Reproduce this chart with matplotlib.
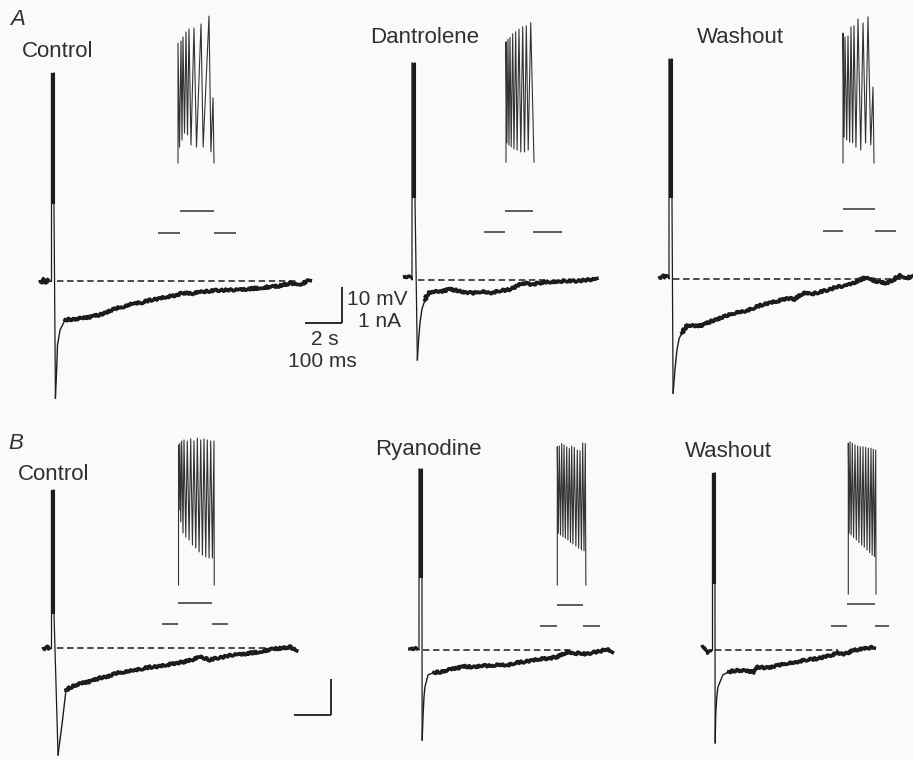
import numpy as np
import matplotlib
matplotlib.use('Agg')
from matplotlib import pyplot as plt

W, H = 913, 760
# drawing scales, pixels per unit
PX_S = 37 / 2.0      # slow sweeps: 2 s bar
PX_MV = 36 / 10.0    # 10 mV bar
PX_MS = 37 / 100.0   # fast sweeps: 100 ms bar
PX_NA = 36 / 1.0     # current: 1 nA bar

INK = '#1c1c1c'
FINE = '#333333'
TXT = '#303030'
BG = '#fafafa'

# ---- slow sweeps: burst at t = 0, potential relative to rest (mV) ----
# A, control
a_ctrl_rest_t = [-0.59, -0.49, -0.38, -0.27, -0.16, -0.05]
a_ctrl_rest_v = [0.3, -0.6, 0.6, -0.5, 0.4, 0.0]
a_ctrl_burst = [57.8, 21.7]   # top of burst, bottom of burst envelope
a_ctrl_ahp_t = [0.24, 0.31, 0.35, 0.49, 0.76, 1.2, 1.73, 2.2, 2.65, 3.1, 3.57, 4.0, 4.43, 4.9, 5.35,
                5.8, 6.27, 6.7, 7.13, 7.6, 8.05, 8.9, 9.84, 10.7, 11.68, 12.3, 12.92, 13.5, 14.0]
a_ctrl_ahp_v = [-32.5, -23.9, -17.8, -13.6, -10.8, -10.6, -10.3, -9.9, -9.4, -8.4, -7.5, -7.0, -6.1, -6.0, -5.3,
                -5.0, -4.4, -4.0, -3.3, -3.5, -3.1, -2.6, -2.5, -2.2, -1.7, -1.4, -0.6, -0.9, 0.3]
a_ctrl_dash = [0.3, 13.4]

# A, dantrolene
a_dant_rest_t = [-0.49, -0.4, -0.3, -0.2, -0.1, -0.03]
a_dant_rest_v = [0.8, 1.1, 0.6, 1.1, 0.7, 0.8]
a_dant_burst = [60.3, 23.1]
a_dant_ahp_t = [0.29, 0.35, 0.43, 0.54, 0.70, 0.86, 1.1, 1.51, 2.0, 2.43, 2.9, 3.30, 3.8, 4.22, 4.7,
                5.13, 5.5, 6.0, 6.5, 6.92, 7.4, 7.84, 8.3, 8.70, 9.3, 10.0]
a_dant_ahp_v = [-22.2, -17.0, -12.0, -8.0, -5.6, -3.6, -3.2, -3.3, -2.6, -2.9, -3.4, -3.6, -3.1, -3.6, -3.0,
                -2.8, -2.2, -0.8, -1.2, -0.8, -0.5, -0.6, -0.2, -0.3, -0.1, 0.3]
a_dant_dash = [0.32, 7.2]

# A, washout
a_wash_rest_t = [-0.54, -0.43, -0.32, -0.22, -0.11, -0.03]
a_wash_rest_v = [0.8, 0.3, 1.1, 0.4, 0.9, 0.8]
a_wash_burst = [61.1, 22.8]
a_wash_ahp_t = [0.22, 0.32, 0.43, 0.55, 0.70, 0.97, 1.4, 1.84, 2.3, 2.76, 3.2, 3.68, 4.1, 4.54, 5.0,
                5.46, 5.9, 6.38, 6.8, 7.24, 7.7, 8.16, 8.6, 9.08, 9.5, 9.95, 10.3, 10.7, 11.0, 11.24,
                11.78, 12.1, 12.49, 12.8, 13.14]
a_wash_ahp_v = [-31.7, -25.3, -19.7, -16.5, -15.0, -12.8, -13.1, -12.8, -11.7, -10.8, -10.0, -9.2, -8.9, -8.1, -7.2,
                -6.7, -6.1, -5.3, -5.6, -3.9, -4.2, -3.6, -3.0, -2.2, -1.9, -1.1, -0.3, 0.6, -0.2, -0.8,
                -1.1, -0.3, 1.1, 0.3, 0.6]
a_wash_dash = [0.22, 12.9]

# B, control
b_ctrl_rest_t = [-0.43, -0.32, -0.22, -0.11, -0.03]
b_ctrl_rest_v = [0.3, -0.3, 0.5, -0.2, 0.0]
b_ctrl_burst = [43.9, 9.7]
b_ctrl_ahp_t = [0.38, 0.6, 0.81, 1.2, 1.73, 2.2, 2.65, 3.1, 3.57, 4.0, 4.43, 4.9, 5.35, 5.8, 6.27,
                6.7, 7.13, 7.6, 8.05, 8.59, 8.97, 9.4, 9.84, 10.3, 10.76, 11.2, 11.68, 12.1, 12.54, 12.9, 13.3]
b_ctrl_ahp_v = [-29.7, -21.0, -11.7, -10.5, -9.7, -9.2, -8.3, -7.8, -6.9, -6.6, -6.1, -5.8, -5.3, -5.2, -4.7,
                -4.2, -3.9, -3.3, -2.5, -3.3, -2.8, -2.4, -1.9, -1.7, -1.4, -1.1, -0.6, -0.2, 0.0, 0.3, -0.6]
b_ctrl_dash = [0.32, 12.5]

# B, ryanodine
b_ryan_rest_t = [-0.59, -0.45, -0.3, -0.16, -0.05]
b_ryan_rest_v = [0.3, 0.6, 0.1, 0.5, 0.3]
b_ryan_burst = [50.3, 20.3]
b_ryan_ahp_t = [0.17, 0.22, 0.27, 0.32, 0.49, 0.8, 1.14, 1.6, 2.05, 2.5, 2.92, 3.4, 3.84, 4.3, 4.76,
                5.2, 5.62, 6.1, 6.54, 7.0, 7.46, 8.0, 8.35, 8.70, 9.05, 9.4, 9.8, 10.16, 10.43]
b_ryan_ahp_v = [-25.0, -18.0, -13.0, -10.3, -6.9, -6.3, -6.1, -5.5, -5.0, -4.6, -4.7, -4.3, -4.4, -4.0, -4.2,
                -3.6, -3.3, -3.0, -2.5, -2.3, -1.9, -0.6, -1.1, -0.8, -1.2, -0.6, -0.4, 0.3, -0.8]
b_ryan_dash = [0.22, 8.3]

# B, washout
b_wash_rest_t = [-0.54, -0.43, -0.32, -0.22, -0.11, -0.03]
b_wash_rest_v = [1.4, 0.8, -0.3, -0.8, -0.3, 0.0]
b_wash_burst = [49.2, 18.6]
b_wash_ahp_t = [0.17, 0.2, 0.26, 0.32, 0.59, 0.9, 1.35, 1.8, 2.27, 2.49, 2.8, 3.19, 3.6, 4.11, 4.5,
                4.97, 5.4, 5.89, 6.3, 6.81, 7.2, 7.68, 8.2, 8.76]
b_wash_ahp_v = [-25.8, -18.0, -13.0, -10.3, -6.9, -6.1, -5.6, -5.8, -6.1, -4.7, -4.9, -4.7, -4.2, -3.6, -3.4,
                -2.8, -2.6, -2.2, -1.7, -0.8, -1.1, 0.0, 0.3, 0.8]
b_wash_dash = [0.16, 6.8]

# ---- fast sweeps of the burst (ms, mV above pre-burst level) ----
a_ctrl_pk_t = [0, 8.1, 13.5, 21.6, 29.7, 43.2, 62.2, 83.8, 94.6]
a_ctrl_pk_v = [33.3, 33.9, 35.0, 36.4, 37.2, 37.5, 38.6, 40.8, 18.1]
a_ctrl_tr_t = [4.1, 10.8, 17.6, 25.7, 35.1, 50.0, 68.0, 89.0]
a_ctrl_tr_v = [4.4, 6.4, 8.3, 7.8, 5.0, 4.4, 4.4, 3.1]
a_ctrl_end = 97.3

a_dant_pk_t = [0, 5.4, 10.8, 18.1, 26.2, 35.1, 45.1, 54.9, 66.8]
a_dant_pk_v = [33.4, 34.1, 34.6, 35.6, 36.2, 36.9, 37.6, 37.8, 38.7]
a_dant_tr_t = [2.5, 8.0, 14.0, 21.5, 30.0, 40.0, 50.0, 60.0]
a_dant_tr_v = [5.3, 4.7, 4.2, 3.6, 3.3, 2.8, 2.8, 3.3]
a_dant_end = 75.7

a_wash_pk_t = [0, 5.4, 13.5, 21.6, 29.7, 40.5, 54.1, 67.6, 81.1]
a_wash_pk_v = [36.1, 35.0, 35.3, 37.8, 38.1, 40.0, 38.9, 40.6, 21.1]
a_wash_tr_t = [3.0, 10.0, 18.0, 26.0, 35.0, 48.0, 61.0, 75.0]
a_wash_tr_v = [7.2, 6.4, 5.8, 5.6, 4.4, 3.6, 5.6, 5.0]
a_wash_end = 83.8

b_ctrl_pk_t = [1.4, 5.0, 10.0, 16.2, 25.1, 34.3, 43.2, 52.2, 61.4, 70.3, 79.2, 88.4, 97.3]
b_ctrl_pk_v = [38.9, 39.4, 40.0, 40.3, 40.0, 40.6, 40.0, 40.8, 40.3, 40.6, 40.3, 40.0, 40.0]
b_ctrl_tr_t = [3.0, 7.5, 13.5, 21.0, 30.0, 39.0, 48.0, 57.0, 66.0, 75.0, 84.0, 93.0]
b_ctrl_tr_v = [20.8, 17.5, 14.4, 13.3, 12.5, 11.1, 10.3, 9.2, 8.3, 7.8, 7.5, 7.5]
b_ctrl_end = 98.0

b_ryan_pk_t = [0.8, 6.2, 12.7, 18.9, 26.2, 33.2, 39.7, 46.8, 54.9, 62.2, 69.5, 76.5]
b_ryan_pk_v = [38.4, 38.6, 39.3, 38.9, 38.4, 37.9, 38.6, 38.2, 37.5, 37.3, 39.5, 39.3]
b_ryan_tr_t = [3.5, 9.5, 16.0, 22.5, 29.5, 36.5, 43.0, 51.0, 58.5, 66.0, 73.0]
b_ryan_tr_v = [14.4, 13.9, 13.4, 13.0, 12.5, 11.8, 11.4, 10.8, 10.2, 9.7, 9.5]
b_ryan_end = 78.0

b_wash_pk_t = [0.8, 5.4, 11.6, 18.9, 26.2, 33.2, 40.5, 47.8, 54.9, 62.2, 68.4, 74.9]
b_wash_pk_v = [41.9, 42.3, 41.9, 41.4, 41.1, 40.9, 40.9, 40.7, 40.5, 40.5, 40.2, 40.0]
b_wash_tr_t = [3.0, 8.5, 15.0, 22.5, 29.5, 37.0, 44.0, 51.5, 58.5, 65.3, 71.5]
b_wash_tr_v = [16.9, 16.4, 15.7, 15.0, 14.3, 13.6, 13.0, 12.2, 11.5, 10.8, 10.4]
b_wash_end = 75.7

# ---- current command: [sweep start, step on, step off, sweep end] (ms), step size (nA) ----
a_ctrl_cmd_t, a_ctrl_cmd_i = [-54, 5.4, 97.3, 157], 0.61
a_dant_cmd_t, a_dant_cmd_i = [-59.5, -2.7, 73, 151], 0.58
a_wash_cmd_t, a_wash_cmd_i = [-54, 0, 86.5, 143], 0.61
b_ctrl_cmd_t, b_ctrl_cmd_i = [-43, 0, 91.9, 135], 0.58
b_ryan_cmd_t, b_ryan_cmd_i = [-46, 0, 70, 116], 0.58
b_wash_cmd_t, b_wash_cmd_i = [-46, -2.7, 73, 111], 0.61

scale_s, scale_mv = 2, 10
labels = ['Control', 'Dantrolene', 'Washout', 'Control', 'Ryanodine', 'Washout']

BURST_W = 0.16   # width of the burst on the slow time base (s)
FAST_END = 0.7   # end of the fast AHP phase (s)


def overlay(fig, x0, y0, sx, sy):
    # full-figure axes whose data origin sits at pixel (x0, y0)
    ax = fig.add_axes([0, 0, 1, 1])
    ax.set_xlim(-x0 / sx, (W - x0) / sx)
    ax.set_ylim(-(H - y0) / sy, y0 / sy)
    ax.set_axis_off()
    return ax


def slow_sweep(ax, rest_t, rest_v, burst, ahp_t, ahp_v, dash):
    peak, floor = burst
    ahp_t = np.asarray(ahp_t)
    ahp_v = np.asarray(ahp_v)
    ln, = ax.plot(rest_t, rest_v, color=INK, lw=2.4, solid_capstyle='butt')
    ln.set_sketch_params(scale=0.8, length=3, randomness=3)
    ax.plot([rest_t[-1], 0, 0], [rest_v[-1], 0, peak], color=INK, lw=0.9)
    ax.fill_betweenx([floor, peak], 0, BURST_W, color=INK, lw=0.8, edgecolor=INK)
    ax.plot([BURST_W, BURST_W, ahp_t[0]], [peak, floor, ahp_v[0]], color=INK, lw=0.9)
    fast = ahp_t <= FAST_END + 0.35
    ax.plot(ahp_t[fast], ahp_v[fast], color=INK, lw=1.0)
    slow = ahp_t >= FAST_END
    ln, = ax.plot(ahp_t[slow], ahp_v[slow], color=INK, lw=2.6, solid_joinstyle='round')
    ln.set_sketch_params(scale=1.1, length=4, randomness=3)
    ax.plot(dash, [0, 0], color=INK, lw=1.1, dashes=(4.2, 2.4))


def fast_sweep(ax, pk_t, pk_v, tr_t, tr_v, end):
    t, v = [pk_t[0]], [0.0]
    for i in range(len(pk_t)):
        t.append(pk_t[i])
        v.append(pk_v[i])
        if i < len(tr_t):
            t.append(tr_t[i])
            v.append(tr_v[i])
    t.append(end)
    v.append(0.0)
    ax.plot(t, v, color=FINE, lw=0.8)


def command(ax, cmd_t, amp):
    t0, on, off, t1 = cmd_t
    kw = dict(color=FINE, lw=1.1, solid_capstyle='butt')
    ax.plot([t0, on], [0, 0], **kw)
    ax.plot([on, off], [amp, amp], **kw)
    ax.plot([off, t1], [0, 0], **kw)


def scale_bar(ax):
    kw = dict(color=INK, lw=1.3, solid_capstyle='butt')
    ax.plot([-scale_s, 0], [0, 0], **kw)
    ax.plot([0, 0], [0, scale_mv], **kw)


def main():
    plt.rcParams['font.family'] = ['Liberation Sans', 'DejaVu Sans']
    fig = plt.figure(figsize=(W / 100, H / 100), dpi=100, facecolor=BG)

    slow = [
        (a_ctrl_rest_t, a_ctrl_rest_v, a_ctrl_burst, a_ctrl_ahp_t, a_ctrl_ahp_v, a_ctrl_dash),
        (a_dant_rest_t, a_dant_rest_v, a_dant_burst, a_dant_ahp_t, a_dant_ahp_v, a_dant_dash),
        (a_wash_rest_t, a_wash_rest_v, a_wash_burst, a_wash_ahp_t, a_wash_ahp_v, a_wash_dash),
        (b_ctrl_rest_t, b_ctrl_rest_v, b_ctrl_burst, b_ctrl_ahp_t, b_ctrl_ahp_v, b_ctrl_dash),
        (b_ryan_rest_t, b_ryan_rest_v, b_ryan_burst, b_ryan_ahp_t, b_ryan_ahp_v, b_ryan_dash),
        (b_wash_rest_t, b_wash_rest_v, b_wash_burst, b_wash_ahp_t, b_wash_ahp_v, b_wash_dash),
    ]
    fast = [
        (a_ctrl_pk_t, a_ctrl_pk_v, a_ctrl_tr_t, a_ctrl_tr_v, a_ctrl_end),
        (a_dant_pk_t, a_dant_pk_v, a_dant_tr_t, a_dant_tr_v, a_dant_end),
        (a_wash_pk_t, a_wash_pk_v, a_wash_tr_t, a_wash_tr_v, a_wash_end),
        (b_ctrl_pk_t, b_ctrl_pk_v, b_ctrl_tr_t, b_ctrl_tr_v, b_ctrl_end),
        (b_ryan_pk_t, b_ryan_pk_v, b_ryan_tr_t, b_ryan_tr_v, b_ryan_end),
        (b_wash_pk_t, b_wash_pk_v, b_wash_tr_t, b_wash_tr_v, b_wash_end),
    ]
    cmds = [
        (a_ctrl_cmd_t, a_ctrl_cmd_i), (a_dant_cmd_t, a_dant_cmd_i), (a_wash_cmd_t, a_wash_cmd_i),
        (b_ctrl_cmd_t, b_ctrl_cmd_i), (b_ryan_cmd_t, b_ryan_cmd_i), (b_wash_cmd_t, b_wash_cmd_i),
    ]

    # pixel anchors: slow sweep origin, fast sweep origin, command origin, label baseline
    slow_xy = [(51, 281), (412, 280), (669, 279), (51, 648), (419, 650), (712, 650)]
    fast_xy = [(178, 163), (506, 162), (843, 163), (178, 585), (557, 585), (848, 594)]
    cmd_xy = [(178, 233), (506, 232), (843, 231), (178, 624), (557, 626), (848, 626)]
    label_xy = [(22, 57), (370, 43), (697, 43), (18, 480), (375, 455), (685, 457)]

    for k in range(6):
        ax = overlay(fig, *slow_xy[k], PX_S, PX_MV)
        slow_sweep(ax, *slow[k])
        ax = overlay(fig, *fast_xy[k], PX_MS, PX_MV)
        fast_sweep(ax, *fast[k])
        ax = overlay(fig, *cmd_xy[k], PX_MS, PX_NA)
        command(ax, *cmds[k])
        x, y = label_xy[k]
        fig.text(x / W, 1 - y / H, labels[k], fontsize=16, color=TXT, va='baseline', ha='left')

    # calibration bars
    scale_bar(overlay(fig, 342, 323, PX_S, PX_MV))
    scale_bar(overlay(fig, 331, 715, PX_S, PX_MV))

    def ptext(x, y, s, **kw):
        fig.text(x / W, 1 - y / H, s, fontsize=15, color=TXT, va='baseline', **kw)

    ptext(347, 305, '10 mV', ha='left')
    ptext(401, 327, '1 nA', ha='right')
    ptext(325, 345, '2 s', ha='center')
    ptext(322, 367, '100 ms', ha='center')

    fig.text(10 / W, 1 - 25 / H, 'A', fontsize=16, style='italic', color=TXT, va='baseline')
    fig.text(8 / W, 1 - 449 / H, 'B', fontsize=16, style='italic', color=TXT, va='baseline')

    fig.savefig('out.png', dpi=100, facecolor=BG)


if __name__ == '__main__':
    main()
